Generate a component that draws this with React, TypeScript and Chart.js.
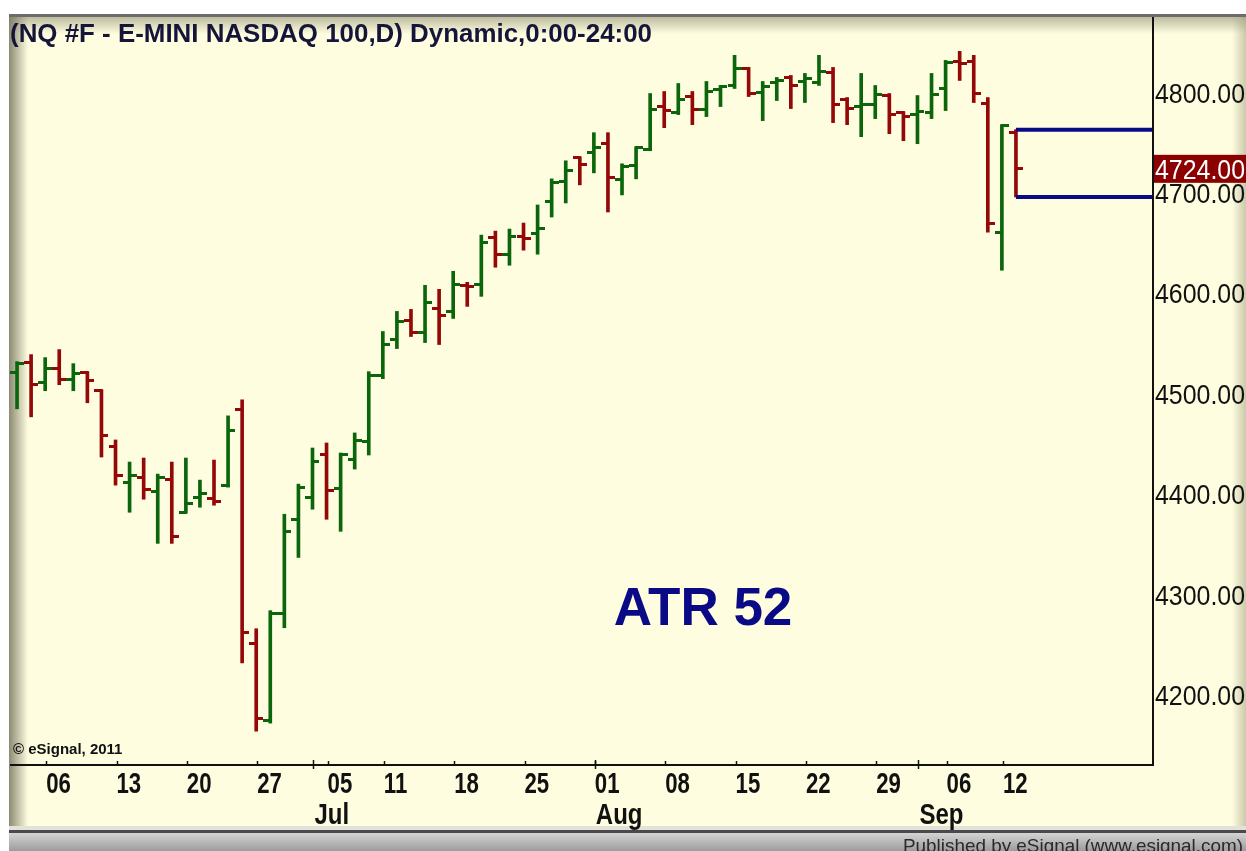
import { useEffect, useRef } from 'react';
import { Chart, registerables } from 'chart.js';

Chart.register(...registerables);

// ---- data ----
const dates = [
  '2011-06-02', '2011-06-03', '2011-06-06', '2011-06-07', '2011-06-08', '2011-06-09', '2011-06-10',
  '2011-06-13', '2011-06-14', '2011-06-15', '2011-06-16', '2011-06-17',
  '2011-06-20', '2011-06-21', '2011-06-22', '2011-06-23', '2011-06-24',
  '2011-06-27', '2011-06-28', '2011-06-29', '2011-06-30', '2011-07-01',
  '2011-07-05', '2011-07-06', '2011-07-07', '2011-07-08',
  '2011-07-11', '2011-07-12', '2011-07-13', '2011-07-14', '2011-07-15',
  '2011-07-18', '2011-07-19', '2011-07-20', '2011-07-21', '2011-07-22',
  '2011-07-25', '2011-07-26', '2011-07-27', '2011-07-28', '2011-07-29',
  '2011-08-01', '2011-08-02', '2011-08-03', '2011-08-04', '2011-08-05',
  '2011-08-08', '2011-08-09', '2011-08-10', '2011-08-11', '2011-08-12',
  '2011-08-15', '2011-08-16', '2011-08-17', '2011-08-18', '2011-08-19',
  '2011-08-22', '2011-08-23', '2011-08-24', '2011-08-25', '2011-08-26',
  '2011-08-29', '2011-08-30', '2011-08-31', '2011-09-01', '2011-09-02',
  '2011-09-06', '2011-09-07', '2011-09-08', '2011-09-09',
  '2011-09-12', '2011-09-13',
];

const opens = [
  4521, 4531, 4511, 4525, 4514, 4521, 4503, 4447, 4412, 4417, 4403, 4415,
  4382, 4397, 4396, 4409, 4484, 4251, 4175, 4281, 4375, 4397, 4440, 4406,
  4435, 4452, 4518, 4554, 4573, 4561, 4585, 4582, 4608, 4609, 4656, 4639,
  4657, 4660, 4691, 4711, 4735, 4740, 4749, 4713, 4727, 4743, 4786, 4780,
  4796, 4783, 4803, 4807, 4824, 4800, 4810, 4815, 4811, 4810, 4820, 4793,
  4786, 4788, 4797, 4780, 4778, 4780, 4804, 4831, 4831, 4789, 4661, 4760,
];
const highs = [
  4532, 4539, 4536, 4544, 4530, 4522, 4504, 4454, 4432, 4436, 4420, 4432,
  4436, 4414, 4434, 4478, 4494, 4266, 4284, 4380, 4410, 4446, 4451, 4441,
  4461, 4522, 4562, 4582, 4584, 4608, 4604, 4622, 4611, 4658, 4662, 4664,
  4670, 4688, 4714, 4732, 4736, 4760, 4760, 4729, 4746, 4799, 4801, 4809,
  4801, 4811, 4807, 4837, 4825, 4811, 4815, 4817, 4819, 4837, 4825, 4795,
  4819, 4807, 4799, 4781, 4797, 4819, 4832, 4841, 4837, 4795, 4768, 4763,
];
const lows = [
  4485, 4477, 4503, 4509, 4503, 4491, 4437, 4409, 4382, 4395, 4351, 4351,
  4381, 4387, 4389, 4407, 4232, 4164, 4172, 4267, 4337, 4385, 4375, 4363,
  4425, 4439, 4515, 4545, 4557, 4551, 4549, 4575, 4587, 4597, 4626, 4628,
  4643, 4639, 4676, 4690, 4708, 4720, 4681, 4698, 4714, 4742, 4765, 4778,
  4768, 4776, 4786, 4804, 4796, 4772, 4792, 4784, 4790, 4807, 4770, 4768,
  4756, 4774, 4759, 4752, 4749, 4774, 4782, 4812, 4790, 4661, 4623, 4696,
];
const closes = [
  4530, 4509, 4525, 4514, 4520, 4513, 4458, 4419, 4419, 4405, 4417, 4358,
  4391, 4401, 4393, 4463, 4262, 4177, 4281, 4363, 4407, 4433, 4404, 4440,
  4453, 4518, 4549, 4572, 4561, 4591, 4578, 4609, 4607, 4651, 4639, 4657,
  4655, 4665, 4710, 4722, 4728, 4745, 4715, 4726, 4745, 4783, 4782, 4793,
  4783, 4801, 4806, 4824, 4799, 4806, 4812, 4807, 4814, 4821, 4788, 4784,
  4788, 4798, 4778, 4776, 4781, 4798, 4830, 4829, 4799, 4670, 4767, 4724,
];

const yTickValues = [4200, 4300, 4400, 4500, 4600, 4700, 4800];
const weekTicks = [
  '2011-06-06', '2011-06-13', '2011-06-20', '2011-06-27', '2011-07-05', '2011-07-11',
  '2011-07-18', '2011-07-25', '2011-08-01', '2011-08-08', '2011-08-15', '2011-08-22',
  '2011-08-29', '2011-09-06', '2011-09-12',
];
const monthTicks = ['2011-07-01', '2011-08-01', '2011-09-01'];
const monthNames = ['Jul', 'Aug', 'Sep'];

const titleText = '(NQ #F - E-MINI NASDAQ 100,D) Dynamic,0:00-24:00';
const atrText = 'ATR 52';

// ---- style ----
const W = 1246;
const H = 851;
const CREAM = '#fefde0';
const UP = '#0b660b';
const DOWN = '#940808';
const NAVY = '#0a0a86';
const FONT = '"Liberation Sans", Arial, sans-serif';
const X_MIN = -0.5;
const X_MAX = 80.67;
const Y_MIN = 4131.3;
const Y_MAX = 4874.2;

function tickImage(color: string, side: 'left' | 'right') {
  const c = document.createElement('canvas');
  c.width = 14;
  c.height = 3;
  const g = c.getContext('2d')!;
  g.fillStyle = color;
  if (side === 'left') g.fillRect(0, 0, 8, 3);
  else g.fillRect(6, 0, 8, 3);
  return c;
}

const backdrop = {
  id: 'backdrop',
  beforeDraw(chart: any) {
    const ctx = chart.ctx as CanvasRenderingContext2D;
    ctx.save();
    ctx.fillStyle = '#ffffff';
    ctx.fillRect(0, 0, W, H);
    ctx.fillStyle = CREAM;
    ctx.fillRect(9, 16, W - 9, 811);
    ctx.fillStyle = '#6c6c6c';
    ctx.fillRect(9, 14, W - 9, 3);
    let g = ctx.createLinearGradient(0, 17, 0, 34);
    g.addColorStop(0, 'rgba(110,108,80,0.45)');
    g.addColorStop(1, 'rgba(110,108,80,0)');
    ctx.fillStyle = g;
    ctx.fillRect(9, 17, W - 9, 17);
    g = ctx.createLinearGradient(9, 0, 28, 0);
    g.addColorStop(0, 'rgba(120,118,95,0.85)');
    g.addColorStop(1, 'rgba(120,118,95,0)');
    ctx.fillStyle = g;
    ctx.fillRect(9, 17, 19, 810);
    g = ctx.createLinearGradient(1232, 0, W, 0);
    g.addColorStop(0, 'rgba(160,158,125,0)');
    g.addColorStop(1, 'rgba(160,158,125,0.55)');
    ctx.fillStyle = g;
    ctx.fillRect(1232, 17, W - 1232, 810);
    ctx.fillStyle = '#e2e2da';
    ctx.fillRect(9, 826, W - 9, 4);
    ctx.fillStyle = '#4a4a4a';
    ctx.fillRect(9, 830, W - 9, 3);
    g = ctx.createLinearGradient(0, 833, 0, H);
    g.addColorStop(0, '#d4d4d4');
    g.addColorStop(1, '#9c9c9c');
    ctx.fillStyle = g;
    ctx.fillRect(9, 833, W - 9, H - 833);
    ctx.restore();
  },
};

const overlay = {
  id: 'overlay',
  afterDraw(chart: any) {
    const ctx = chart.ctx as CanvasRenderingContext2D;
    const xs = chart.scales.x;
    const ys = chart.scales.y;
    const area = chart.chartArea;
    ctx.save();

    ctx.strokeStyle = '#111111';
    ctx.lineWidth = 2;
    ctx.beginPath();
    ctx.moveTo(area.right + 1, area.top - 1);
    ctx.lineTo(area.right + 1, area.bottom + 1);
    ctx.lineTo(area.left, area.bottom + 1);
    ctx.stroke();

    ctx.lineWidth = 1.5;
    weekTicks.forEach((d) => {
      const x = Math.round(xs.getPixelForValue(dates.indexOf(d))) + 1.5;
      ctx.beginPath();
      ctx.moveTo(x, area.bottom - 3);
      ctx.lineTo(x, area.bottom);
      ctx.stroke();
    });
    monthTicks.forEach((d) => {
      const x = Math.round(xs.getPixelForValue(dates.indexOf(d))) + 1.5;
      ctx.beginPath();
      ctx.moveTo(x, area.bottom - 4);
      ctx.lineTo(x, area.bottom + 5);
      ctx.stroke();
    });

    ctx.fillStyle = '#111111';
    ctx.textBaseline = 'alphabetic';
    ctx.textAlign = 'left';
    ctx.font = `bold 30px ${FONT}`;
    weekTicks.forEach((d) => {
      const x = xs.getPixelForValue(dates.indexOf(d)) + 1;
      ctx.save();
      ctx.translate(x, area.bottom + 29);
      ctx.scale(0.74, 1);
      ctx.fillText(d.slice(8), 0, 0);
      ctx.restore();
    });
    monthTicks.forEach((d, k) => {
      const x = xs.getPixelForValue(dates.indexOf(d)) + 2;
      ctx.save();
      ctx.translate(x, area.bottom + 60);
      ctx.scale(0.8, 1);
      ctx.fillText(monthNames[k], 0, 0);
      ctx.restore();
    });

    ctx.font = `28px ${FONT}`;
    yTickValues.forEach((v) => {
      const y = ys.getPixelForValue(v);
      ctx.fillText(v.toFixed(2), area.right + 3, y + 10, 90);
    });

    const last = closes.length - 1;
    const ly = ys.getPixelForValue(closes[last]);
    ctx.fillStyle = '#8b0000';
    ctx.fillRect(area.right + 2, ly - 14, W - area.right - 2, 28);
    ctx.fillStyle = '#ffffff';
    ctx.fillText(closes[last].toFixed(2), area.right + 3, ly + 10, 90);

    ctx.fillStyle = '#15153a';
    ctx.font = `bold 26px ${FONT}`;
    ctx.fillText(titleText, 10, 42, 642);

    ctx.fillStyle = '#111111';
    ctx.font = `bold 15px ${FONT}`;
    ctx.fillText('\u00A9 eSignal, 2011', 13, area.bottom - 10, 112);

    ctx.fillStyle = NAVY;
    ctx.font = `bold 53px ${FONT}`;
    ctx.textAlign = 'center';
    ctx.fillText(atrText, area.left + 693, area.top + 607);

    ctx.fillStyle = '#2a2a2a';
    ctx.font = `19px ${FONT}`;
    ctx.textAlign = 'right';
    ctx.fillText('Published by eSignal (www.esignal.com)', W - 3, H + 1, 340);

    ctx.restore();
  },
};

export default function App() {
  const ref = useRef<HTMLCanvasElement>(null);

  useEffect(() => {
    const canvas = ref.current;
    if (!canvas) return;
    const n = dates.length;
    const last = n - 1;
    const colors = opens.map((o, i) => (closes[i] >= o ? UP : DOWN));
    const upOpen = tickImage(UP, 'left');
    const downOpen = tickImage(DOWN, 'left');
    const upClose = tickImage(UP, 'right');
    const downClose = tickImage(DOWN, 'right');

    const chart = new Chart(canvas, {
      type: 'bar',
      data: {
        datasets: [
          {
            type: 'line',
            data: [
              { x: last, y: highs[last] },
              { x: X_MAX, y: highs[last] },
            ],
            borderColor: NAVY,
            borderWidth: 4,
            pointRadius: 0,
            fill: false,
            order: 0,
          } as any,
          {
            type: 'line',
            data: [
              { x: last, y: lows[last] },
              { x: X_MAX, y: lows[last] },
            ],
            borderColor: NAVY,
            borderWidth: 4,
            pointRadius: 0,
            fill: false,
            order: 0,
          } as any,
          {
            type: 'scatter',
            data: opens.map((v, i) => ({ x: i, y: v })),
            pointStyle: opens.map((o, i) => (closes[i] >= o ? upOpen : downOpen)),
            pointRadius: 3,
            order: 1,
          } as any,
          {
            type: 'scatter',
            data: closes.map((v, i) => ({ x: i, y: v })),
            pointStyle: opens.map((o, i) => (closes[i] >= o ? upClose : downClose)),
            pointRadius: 3,
            order: 1,
          } as any,
          {
            type: 'bar',
            data: highs.map((h, i) => ({ x: i, y: [lows[i], h] })),
            backgroundColor: colors,
            borderWidth: 0,
            barThickness: 3,
            grouped: false,
            order: 2,
          } as any,
        ],
      },
      options: {
        responsive: false,
        animation: false,
        devicePixelRatio: 1,
        events: [],
        layout: { padding: { left: 10, top: 18, right: W - 1152, bottom: H - 764 } },
        scales: {
          x: { type: 'linear', min: X_MIN, max: X_MAX, offset: false, display: false },
          y: { type: 'linear', min: Y_MIN, max: Y_MAX, display: false },
        },
        plugins: {
          legend: { display: false },
          tooltip: { enabled: false },
          title: { display: false },
        },
      },
      plugins: [backdrop, overlay],
    } as any);

    return () => chart.destroy();
  }, []);

  return (
    <div style={{ position: 'fixed', left: 0, top: 0, width: W, height: H }}>
      <canvas ref={ref} width={W} height={H} style={{ display: 'block', width: W, height: H }} />
    </div>
  );
}
